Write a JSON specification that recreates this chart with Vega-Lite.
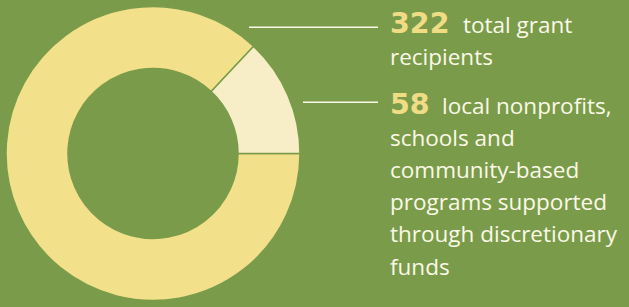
{
  "$schema": "https://vega.github.io/schema/vega-lite/v6.json",
  "background": "#7a9c4a",
  "padding": 0,
  "bounds": "flush",
  "spacing": 0,
  "config": {"view": {"stroke": null}},
  "datasets": {
    "segments": [
      {"segment": "other", "share": 87},
      {"segment": "discretionary", "share": 13}
    ],
    "notes": [
      {"number": "322", "lead": "total grant", "rest": ["recipients"], "line": 0},
      {"number": "58", "lead": "local nonprofits,", "rest": ["schools and", "community-based", "programs supported", "through discretionary", "funds"], "line": 2.5}
    ]
  },
  "hconcat": [
    {
      "width": 306,
      "height": 307,
      "data": {"name": "segments"},
      "mark": {"type": "arc", "outerRadius": 147, "innerRadius": 85, "stroke": "#7a9c4a", "strokeWidth": 1.5},
      "encoding": {
        "theta": {"field": "share", "type": "quantitative", "stack": true, "scale": {"range": [0.754, 7.037]}},
        "color": {"field": "segment", "type": "nominal", "scale": {"domain": ["discretionary", "other"], "range": ["#f7eec8", "#f2e08a"]}, "legend": null},
        "order": {"field": "segment", "sort": "ascending"}
      }
    },
    {
      "width": 323,
      "height": 307,
      "data": {"name": "notes"},
      "encoding": {
        "y": {"field": "line", "type": "quantitative", "scale": {"domain": [-1.025, 8.509], "reverse": true, "nice": false, "zero": false}, "axis": null}
      },
      "layer": [
        {
          "transform": [{"filter": "datum.number === '322'"}],
          "mark": {"type": "rule", "color": "#fbf8e8", "strokeWidth": 1.6},
          "encoding": {
            "x": {"datum": -57, "type": "quantitative", "scale": {"domain": [0, 323], "nice": false, "zero": false}, "axis": null},
            "x2": {"datum": 72},
            "y": {"datum": -0.177, "type": "quantitative"}
          }
        },
        {
          "transform": [{"filter": "datum.number === '58'"}],
          "mark": {"type": "rule", "color": "#fbf8e8", "strokeWidth": 1.6},
          "encoding": {
            "x": {"datum": -3, "type": "quantitative"},
            "x2": {"datum": 72},
            "y": {"datum": 2.152, "type": "quantitative"}
          }
        },
        {
          "mark": {"type": "text", "align": "left", "baseline": "alphabetic", "font": "DejaVu Sans", "fontWeight": "bold", "fontSize": 28.5, "color": "#f1dc86"},
          "encoding": {
            "x": {"datum": 84, "type": "quantitative"},
            "text": {"field": "number"}
          }
        },
        {
          "transform": [{"filter": "datum.number === '322'"}],
          "mark": {"type": "text", "align": "left", "baseline": "alphabetic", "font": "Open Sans", "fontSize": 22.5, "color": "#fbf8e8"},
          "encoding": {
            "x": {"datum": 157, "type": "quantitative"},
            "text": {"field": "lead"}
          }
        },
        {
          "transform": [{"filter": "datum.number === '58'"}],
          "mark": {"type": "text", "align": "left", "baseline": "alphabetic", "font": "Open Sans", "fontSize": 22.5, "color": "#fbf8e8"},
          "encoding": {
            "x": {"datum": 136, "type": "quantitative"},
            "text": {"field": "lead"}
          }
        },
        {
          "mark": {"type": "text", "align": "left", "baseline": "alphabetic", "font": "Open Sans", "fontSize": 22.5, "color": "#fbf8e8", "dy": 32.2, "lineHeight": 32.2},
          "encoding": {
            "x": {"datum": 84, "type": "quantitative"},
            "text": {"field": "rest"}
          }
        }
      ]
    }
  ]
}
